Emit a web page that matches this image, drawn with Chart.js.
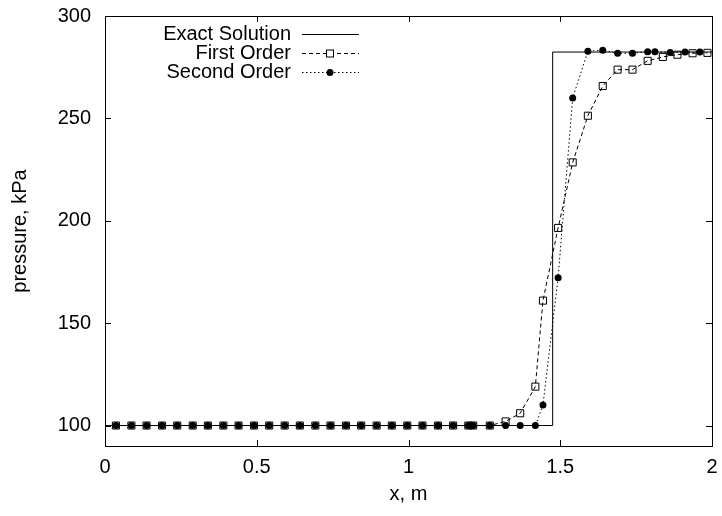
<!DOCTYPE html>
<html>
<head>
<meta charset="utf-8">
<script src="https://cdn.jsdelivr.net/npm/chart.js@4/dist/chart.umd.min.js"></script>
<style>
  html, body { margin: 0; padding: 0; background: #fff; }
  #wrap { width: 722px; height: 516px; }
</style>
</head>
<body>
<div id="wrap"><canvas id="c" width="722" height="516"></canvas></div>
<script>
const xTicks = [0, 0.5, 1, 1.5, 2];
const yTicks = [100, 150, 200, 250, 300];

const xExact = [0, 1.475, 1.475, 2];
const pExact = [100, 100, 282.4, 282.4];

const xFirst = [0.036,0.087,0.137,0.188,0.238,0.289,0.339,0.390,0.440,0.491,0.541,0.592,0.642,0.693,0.743,0.794,0.844,0.895,0.945,0.996,1.046,1.097,1.147,1.197,1.213,1.268,1.320,1.368,1.418,1.443,1.493,1.541,1.591,1.640,1.689,1.738,1.788,1.838,1.886,1.936,1.985];
const pFirst = [100,100,100,100,100,100,100,100,100,100,100,100,100,100,100,100,100,100,100,100,100,100,100,100,100,100,102,106,119,161,196.5,228.5,251.3,265.8,273.8,273.8,278.1,280,281.1,281.8,282];

const xSecond = [0.036,0.087,0.137,0.188,0.238,0.289,0.339,0.390,0.440,0.491,0.541,0.592,0.642,0.693,0.743,0.794,0.844,0.895,0.945,0.996,1.046,1.097,1.147,1.197,1.213,1.268,1.320,1.368,1.418,1.443,1.493,1.541,1.591,1.640,1.689,1.738,1.788,1.812,1.862,1.911,1.960];
const pSecond = [100,100,100,100,100,100,100,100,100,100,100,100,100,100,100,100,100,100,100,100,100,100,100,100,100,100,100,100,100,110,172.2,260,282.8,283.3,281.8,281.8,282.6,282.6,282.2,282.4,282.4];

const seriesNames = ['Exact Solution', 'First Order', 'Second Order'];

const FONT = '"Liberation Sans", Arial, Helvetica, sans-serif';
const FS = 20;

function pts(xs, ys) { return xs.map((x, i) => ({ x: x, y: ys[i] })); }

const framePlugin = {
  id: 'frame',
  afterDatasetsDraw(chart) {
    const ctx = chart.ctx;
    const a = chart.chartArea;
    const xs = chart.scales.x, ys = chart.scales.y;
    ctx.save();
    ctx.strokeStyle = '#000';
    ctx.lineWidth = 1;
    ctx.setLineDash([]);
    ctx.strokeRect(Math.round(a.left) + 0.5, Math.round(a.top) + 0.5,
                   Math.round(a.right - a.left), Math.round(a.bottom - a.top));
    const TL = 6;
    ctx.beginPath();
    xTicks.forEach(v => {
      if (v === xTicks[0] || v === xTicks[xTicks.length - 1]) return;
      const px = Math.round(xs.getPixelForValue(v)) + 0.5;
      ctx.moveTo(px, a.bottom); ctx.lineTo(px, a.bottom - TL);
      ctx.moveTo(px, a.top); ctx.lineTo(px, a.top + TL);
    });
    yTicks.forEach(v => {
      if (v === ys.max) return;
      const py = Math.round(ys.getPixelForValue(v)) + 0.5;
      ctx.moveTo(a.left, py); ctx.lineTo(a.left + TL, py);
      ctx.moveTo(a.right, py); ctx.lineTo(a.right - TL, py);
    });
    ctx.stroke();

    ctx.font = FS + 'px ' + FONT;
    ctx.fillStyle = '#000';
    ctx.textAlign = 'right';
    ctx.textBaseline = 'middle';
    const textRight = 291, s0 = 302, s1 = 359, mx = 330;
    const rows = [34, 53, 72];
    chart.data.datasets.forEach((ds, i) => {
      const y = rows[i];
      ctx.fillText(seriesNames[i], textRight, y);
      ctx.beginPath();
      ctx.setLineDash(ds.borderDash || []);
      ctx.lineWidth = 1;
      ctx.moveTo(s0, y + 0.5); ctx.lineTo(s1, y + 0.5);
      ctx.stroke();
      ctx.setLineDash([]);
      if (i === 1) {
        ctx.fillStyle = '#fff';
        ctx.fillRect(mx - 3.5, y - 3, 7, 7);
        ctx.strokeRect(mx - 3.5, y - 3, 7, 7);
        ctx.fillStyle = '#000';
      } else if (i === 2) {
        ctx.beginPath();
        ctx.arc(mx, y + 0.5, 3.5, 0, Math.PI * 2);
        ctx.fill();
      }
    });
    ctx.restore();
  }
};

new Chart(document.getElementById('c'), {
  type: 'scatter',
  data: {
    datasets: [
      {
        label: seriesNames[0],
        data: pts(xExact, pExact),
        showLine: true,
        borderColor: '#000',
        borderWidth: 1,
        pointRadius: 0,
        tension: 0,
        order: 3
      },
      {
        label: seriesNames[1],
        data: pts(xFirst, pFirst),
        showLine: true,
        borderColor: '#000',
        borderWidth: 1,
        borderDash: [4, 3],
        pointStyle: 'rect',
        pointRadius: 5,
        pointBorderWidth: 1,
        pointBorderColor: '#000',
        pointBackgroundColor: 'rgba(0,0,0,0)',
        tension: 0,
        order: 2
      },
      {
        label: seriesNames[2],
        data: pts(xSecond, pSecond),
        showLine: true,
        borderColor: '#000',
        borderWidth: 1,
        borderDash: [1.5, 2.5],
        pointStyle: 'circle',
        pointRadius: 3.5,
        pointBorderWidth: 0,
        pointBackgroundColor: '#000',
        tension: 0,
        order: 1
      }
    ]
  },
  options: {
    responsive: false,
    animation: false,
    devicePixelRatio: 1,
    layout: { padding: { top: 16, right: 10, left: 0, bottom: 0 } },
    plugins: { legend: { display: false }, tooltip: { enabled: false } },
    scales: {
      x: {
        type: 'linear',
        min: 0, max: 2,
        afterBuildTicks(s) { s.ticks = xTicks.map(v => ({ value: v })); },
        afterFit(s) { s.height = 70; s.paddingRight = 0; s.paddingLeft = 0; },
        grid: { display: false, drawTicks: false },
        border: { display: false },
        ticks: {
          padding: 9,
          color: '#000',
          font: { family: FONT, size: FS },
          maxRotation: 0,
          callback: v => String(v)
        },
        title: {
          display: true,
          text: 'x, m',
          color: '#000',
          font: { family: FONT, size: FS },
          padding: { top: 0, bottom: 10 }
        }
      },
      y: {
        type: 'linear',
        min: 90, max: 300,
        afterBuildTicks(s) { s.ticks = yTicks.map(v => ({ value: v })); },
        afterFit(s) { s.width = 105; s.paddingTop = 0; s.paddingBottom = 0; },
        grid: { display: false, drawTicks: false },
        border: { display: false },
        ticks: {
          padding: 14,
          color: '#000',
          font: { family: FONT, size: FS },
          callback: v => String(v)
        },
        title: {
          display: true,
          text: 'pressure, kPa',
          color: '#000',
          font: { family: FONT, size: FS },
          padding: { top: 8, bottom: 0 }
        }
      }
    }
  },
  plugins: [framePlugin]
});
</script>
</body>
</html>
